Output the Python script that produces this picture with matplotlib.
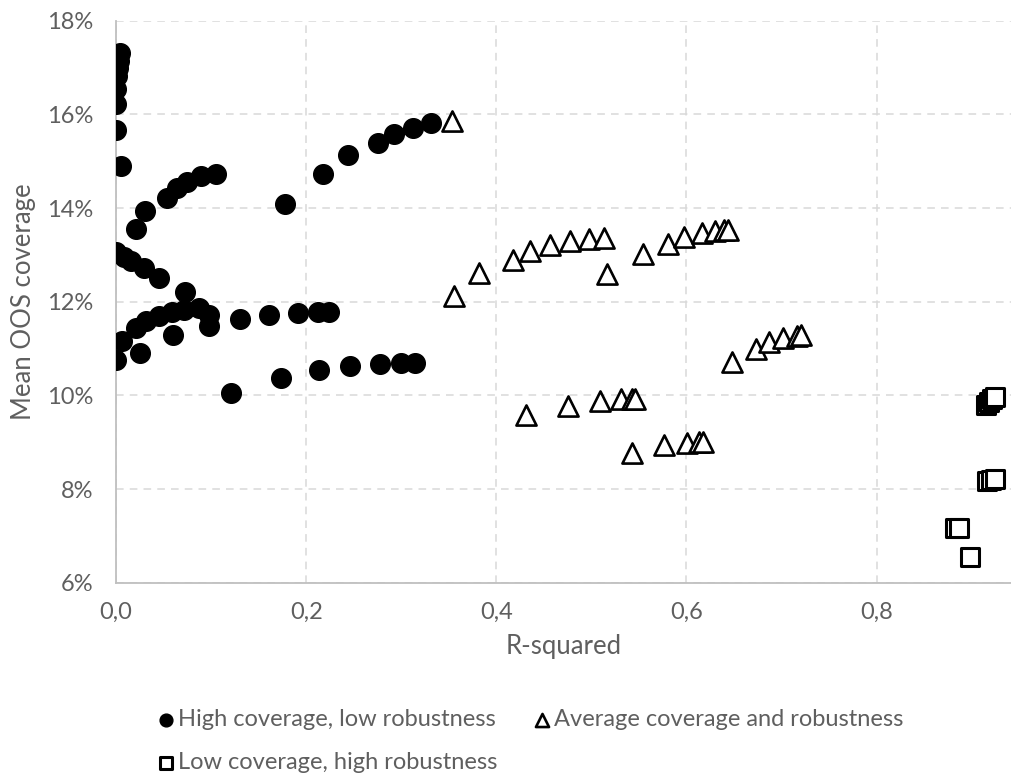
import matplotlib.pyplot as plt
from matplotlib.ticker import FuncFormatter, MultipleLocator

# data (x = R-squared, y = mean OOS coverage in %)
high_x = [0.004, 0.003, 0.002, 0.001, 0.000, 0.000, 0.000, 0.005,
          0.021, 0.031, 0.054, 0.064, 0.075, 0.089, 0.105,
          0.178, 0.218, 0.244, 0.276, 0.292, 0.312, 0.331,
          0.000, 0.008, 0.016, 0.029, 0.045, 0.073,
          0.000, 0.006, 0.021, 0.025, 0.032, 0.045, 0.059, 0.060, 0.072,
          0.087, 0.098, 0.098, 0.130, 0.161, 0.191, 0.212, 0.224,
          0.121, 0.174, 0.214, 0.246, 0.278, 0.300, 0.314]
high_y = [17.30, 17.15, 17.00, 16.82, 16.55, 16.22, 15.67, 14.90,
          13.55, 13.94, 14.22, 14.42, 14.56, 14.68, 14.72,
          14.08, 14.72, 15.13, 15.39, 15.58, 15.71, 15.81,
          13.07, 12.96, 12.87, 12.71, 12.50, 12.20,
          10.75, 11.16, 11.43, 10.91, 11.59, 11.69, 11.77, 11.29, 11.82,
          11.86, 11.71, 11.49, 11.63, 11.71, 11.76, 11.78, 11.78,
          10.06, 10.38, 10.54, 10.63, 10.68, 10.70, 10.70]

avg_x = [0.353, 0.355, 0.382, 0.418, 0.435, 0.456, 0.478, 0.498, 0.513,
         0.516, 0.554, 0.581, 0.597, 0.616, 0.630, 0.640, 0.644,
         0.431, 0.475, 0.509, 0.531, 0.543, 0.546,
         0.543, 0.576, 0.601, 0.613, 0.617,
         0.648, 0.673, 0.687, 0.702, 0.716, 0.720]
avg_y = [15.86, 12.12, 12.62, 12.90, 13.09, 13.21, 13.30, 13.34, 13.37,
         12.59, 13.02, 13.23, 13.38, 13.47, 13.51, 13.53, 13.53,
         9.58, 9.77, 9.88, 9.92, 9.92, 9.92,
         8.78, 8.94, 8.99, 9.00, 9.00,
         10.72, 11.00, 11.14, 11.22, 11.27, 11.29]

low_x = [0.915, 0.918, 0.921, 0.924, 0.916, 0.920, 0.924, 0.882, 0.887, 0.898]
low_y = [9.79, 9.85, 9.92, 9.97, 8.18, 8.20, 8.21, 7.17, 7.17, 6.54]

labels = ['High coverage, low robustness',
          'Average coverage and robustness',
          'Low coverage, high robustness']

txt = '#5f5f5f'
plt.rcParams['font.family'] = ['Lato', 'DejaVu Sans']

fig = plt.figure(figsize=(10.11, 7.78), dpi=100)
ax = fig.add_axes([0.1147, 0.251, 0.885, 0.7224])

h1 = ax.scatter(high_x, high_y, s=200, marker='o', color='black', zorder=3)
h2 = ax.scatter(avg_x, avg_y, s=210, marker='^', facecolors='white',
                edgecolors='black', linewidths=1.9, zorder=3)
h3 = ax.scatter(low_x, low_y, s=160, marker='s', facecolors='white',
                edgecolors='black', linewidths=2.2, zorder=3)

ax.set_xlim(0, 0.941)
ax.set_ylim(6, 18)
ax.xaxis.set_major_locator(MultipleLocator(0.2))
ax.yaxis.set_major_locator(MultipleLocator(2))
ax.xaxis.set_major_formatter(FuncFormatter(lambda v, p: f'{v:.1f}'.replace('.', ',')))
ax.yaxis.set_major_formatter(FuncFormatter(lambda v, p: f'{v:.0f}%'))

ax.grid(True, color='#d9d9d9', linestyle=(0, (5, 4)), linewidth=1.1, zorder=0)
ax.set_axisbelow(True)
for s in ['top', 'right']:
    ax.spines[s].set_visible(False)
for s in ['left', 'bottom']:
    ax.spines[s].set_color('#bfbfbf')
    ax.spines[s].set_linewidth(1.3)
ax.tick_params(length=0, labelsize=17, labelcolor=txt)
ax.tick_params(axis='y', pad=16)
ax.tick_params(axis='x', pad=14)

ax.set_xlabel('R-squared', fontsize=18.5, color=txt, labelpad=8)
ax.set_ylabel('Mean OOS coverage', fontsize=18.5, color=txt, labelpad=8)

leg = fig.legend([h1, h3, h2], [labels[0], labels[2], labels[1]], ncol=2,
                 loc='upper left', bbox_to_anchor=(159 / 1011, 1 - 709 / 778),
                 frameon=False, fontsize=17, labelcolor=txt,
                 markerscale=0.65, handlelength=0.6, handletextpad=0.2,
                 columnspacing=1.6, labelspacing=0.95, borderpad=0,
                 borderaxespad=0)

fig.savefig('out.png', dpi=100)
